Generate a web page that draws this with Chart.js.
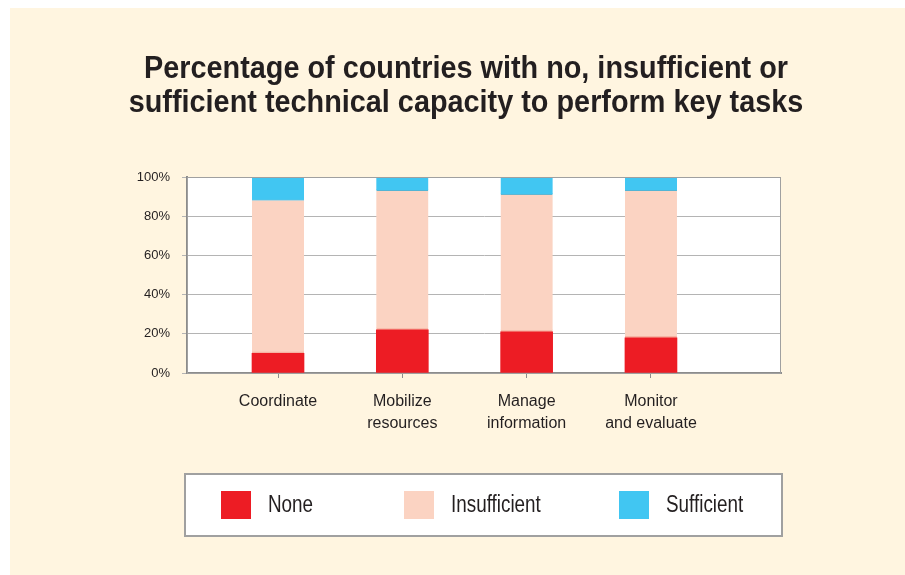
<!DOCTYPE html>
<html>
<head>
<meta charset="utf-8">
<script src="https://cdn.jsdelivr.net/npm/chart.js@4.4.0/dist/chart.umd.min.js"></script>
<style>
  html, body { margin: 0; padding: 0; background: #ffffff; }
  #wrap { width: 905px; height: 575px; }
</style>
</head>
<body>
<div id="wrap"><canvas id="chart" width="905" height="575"></canvas></div>
<script>
// chart data
const categories = [['Coordinate'], ['Mobilize', 'resources'], ['Manage', 'information'], ['Monitor', 'and evaluate']];
const noneValues = [10, 22, 21, 18];
const insufficientValues = [78, 71, 70, 75];
const sufficientValues = [12, 7, 9, 7];
const yTicks = [0, 20, 40, 60, 80, 100];

const seriesNames = ['None', 'Insufficient', 'Sufficient'];
const titleLines = ['Percentage of countries with no, insufficient or', 'sufficient technical capacity to perform key tasks'];

const colors = {
  none: '#ED1C24',
  insufficient: '#FBD3C2',
  sufficient: '#41C6F2',
  page: '#FFF5E0',
  text: '#231F20',
  grid: '#B4B4B4',
  axis: '#8C8C8C'
};

const FONT = "'Liberation Sans', Arial, sans-serif";

function toPoints(values) {
  return values.map((v, i) => ({ x: i, y: v }));
}

// draws text squeezed horizontally, the original uses a condensed face
function condensedText(ctx, text, x, y, squeeze) {
  ctx.save();
  ctx.translate(x, y);
  ctx.scale(squeeze, 1);
  ctx.fillText(text, 0, 0);
  ctx.restore();
}

// page background, white plot area, frame and title
const backgroundPlugin = {
  id: 'backgroundPlugin',
  beforeDraw(chart) {
    const { ctx, chartArea: a } = chart;
    ctx.save();
    ctx.fillStyle = '#ffffff';
    ctx.fillRect(0, 0, chart.width, chart.height);
    ctx.fillStyle = colors.page;
    ctx.fillRect(10, 8, chart.width - 10, chart.height - 8);
    ctx.fillStyle = '#ffffff';
    ctx.fillRect(a.left, a.top, a.right - a.left, a.bottom - a.top);

    ctx.fillStyle = colors.text;
    ctx.font = 'bold 31px ' + FONT;
    ctx.textAlign = 'center';
    ctx.textBaseline = 'alphabetic';
    titleLines.forEach((line, i) => condensedText(ctx, line, 466, 78 + i * 34, 0.93));
    ctx.restore();
  },
  afterDraw(chart) {
    const { ctx, chartArea: a } = chart;
    ctx.save();
    ctx.strokeStyle = '#A0A0A0';
    ctx.lineWidth = 1;
    ctx.strokeRect(a.left + 0.5, a.top + 0.5, a.right - a.left - 1, a.bottom - a.top);
    ctx.restore();
  }
};

// boxed legend under the chart
const boxLegend = {
  id: 'boxLegend',
  afterDraw(chart) {
    const ctx = chart.ctx;
    const box = { x: 185, y: 474, w: 597, h: 62 };
    const itemX = [221, 404, 619];
    ctx.save();
    ctx.fillStyle = '#ffffff';
    ctx.fillRect(box.x, box.y, box.w, box.h);
    ctx.strokeStyle = '#A0A0A0';
    ctx.lineWidth = 2;
    ctx.strokeRect(box.x, box.y, box.w, box.h);
    ctx.font = '23px ' + FONT;
    ctx.textBaseline = 'middle';
    ctx.textAlign = 'left';
    chart.data.datasets.forEach((ds, i) => {
      ctx.fillStyle = ds.backgroundColor;
      ctx.fillRect(itemX[i], 491, 30, 28);
      ctx.fillStyle = colors.text;
      condensedText(ctx, ds.label, itemX[i] + 47, 506, 0.82);
    });
    ctx.restore();
  }
};

new Chart(document.getElementById('chart'), {
  type: 'bar',
  data: {
    datasets: [
      {
        label: seriesNames[0],
        data: toPoints(noneValues),
        backgroundColor: colors.none,
        borderWidth: 0,
        barThickness: 52
      },
      {
        label: seriesNames[1],
        data: toPoints(insufficientValues),
        backgroundColor: colors.insufficient,
        borderColor: '#F6B4A3',
        borderWidth: { top: 0, left: 0, right: 0, bottom: 2 },
        borderSkipped: false,
        barThickness: 52
      },
      {
        label: seriesNames[2],
        data: toPoints(sufficientValues),
        backgroundColor: colors.sufficient,
        borderColor: '#3AAFD6',
        borderWidth: { top: 0, left: 0, right: 0, bottom: 1 },
        borderSkipped: false,
        barThickness: 52
      }
    ]
  },
  options: {
    responsive: false,
    animation: false,
    devicePixelRatio: 1,
    layout: {
      padding: { top: 177, left: 10, right: 124, bottom: 102 }
    },
    plugins: {
      legend: { display: false },
      tooltip: { enabled: false },
      title: { display: false }
    },
    scales: {
      x: {
        type: 'linear',
        stacked: true,
        offset: false,
        min: -0.732,
        max: 4.046,
        afterBuildTicks(scale) {
          scale.ticks = categories.map((_, i) => ({ value: i }));
        },
        afterFit(scale) {
          scale.height = 100;
        },
        ticks: {
          autoSkip: false,
          maxRotation: 0,
          padding: 13,
          color: colors.text,
          font: { family: FONT, size: 16, lineHeight: '22px' },
          callback: (value) => categories[value]
        },
        grid: {
          offset: false,
          drawOnChartArea: false,
          drawTicks: true,
          tickLength: 5,
          color: colors.axis
        },
        border: { display: true, color: colors.axis, width: 2 }
      },
      y: {
        stacked: true,
        min: 0,
        max: 100,
        afterBuildTicks(scale) {
          scale.ticks = yTicks.map(v => ({ value: v }));
        },
        afterFit(scale) {
          scale.width = 177;
        },
        ticks: {
          padding: 12,
          color: colors.text,
          font: { family: FONT, size: 13 },
          callback: (value) => value + '%'
        },
        grid: {
          color: colors.grid,
          tickLength: 5
        },
        border: { display: true, color: colors.axis, width: 2 }
      }
    }
  },
  plugins: [backgroundPlugin, boxLegend]
});
</script>
</body>
</html>
